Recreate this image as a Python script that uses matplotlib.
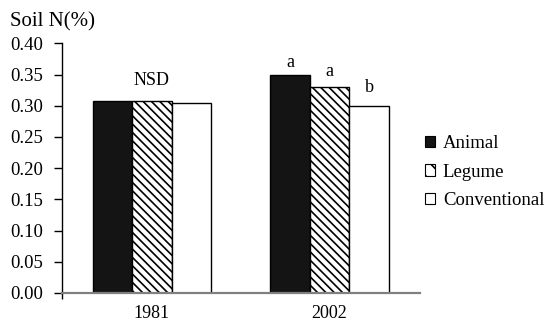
import numpy as np
import matplotlib
matplotlib.use('Agg')
import matplotlib.pyplot as plt
from matplotlib.patches import Patch

plt.rcParams['font.family'] = ['Liberation Serif', 'DejaVu Serif']
plt.rcParams['hatch.linewidth'] = 1.2

# data
years = ['1981', '2002']
treatments = ['Animal', 'Legume', 'Conventional']
animal = [0.307, 0.349]
legume = [0.307, 0.330]
conventional = [0.304, 0.300]
letters_2002 = ['a', 'a', 'b']
nsd_label = 'NSD'

fig = plt.figure(figsize=(5.47, 3.27), dpi=100)
ax = fig.add_axes([0.1133, 0.104, 0.6545, 0.7636])

x = np.arange(len(years))
w = 0.2225
styles = [dict(color='#141414', hatch=None),
          dict(color='white', hatch='\\\\\\\\'),
          dict(color='white', hatch=None)]
series = [animal, legume, conventional]
for i, (vals, st) in enumerate(zip(series, styles)):
    ax.bar(x + (i - 1) * w, vals, w, color=st['color'], hatch=st['hatch'],
           edgecolor='black', linewidth=1.0, label=treatments[i], zorder=2)

# significance labels
ax.annotate(nsd_label, xy=(x[0], max(s[0] for s in series)), xytext=(0, 12),
            textcoords='offset points', ha='center', va='baseline', fontsize=13)
offs = [6, 8, 10]
for i, lab in enumerate(letters_2002):
    ax.annotate(lab, xy=(x[1] + (i - 1) * w, series[i][1]), xytext=(0, offs[i]),
                textcoords='offset points', ha='center', va='baseline', fontsize=13)

ax.set_xlim(-0.507, 1.51)
ax.set_ylim(0, 0.40)
ax.set_yticks(np.arange(0, 0.401, 0.05))
ax.set_yticklabels(['%.2f' % v for v in np.arange(0, 0.401, 0.05)])
ax.set_xticks(x)
ax.set_xticklabels(years)
ax.set_xticks([-0.507], minor=True)
ax.tick_params(axis='x', which='major', length=0, pad=9, labelsize=13)
ax.tick_params(axis='x', which='minor', length=4, width=1, direction='out')
ax.tick_params(axis='y', length=6, width=1, direction='out', pad=7.5, labelsize=13.5)

for s in ['top', 'right']:
    ax.spines[s].set_visible(False)
ax.spines['left'].set_linewidth(1)
ax.spines['bottom'].set_color('#808080')
ax.spines['bottom'].set_linewidth(1.6)
ax.spines['bottom'].set_zorder(3)

fig.text(10 / 547, 1 - 22 / 327, 'Soil N(%)', fontsize=15, va='center', ha='left')

handles = [Patch(facecolor='#141414', edgecolor='black', linewidth=0.8),
           Patch(facecolor='white', edgecolor='black', hatch='\\\\', linewidth=0.8),
           Patch(facecolor='white', edgecolor='black', linewidth=0.8)]
fig.legend(handles, treatments, loc='upper left', bbox_to_anchor=(425 / 547, 1 - 135 / 327),
           frameon=False, fontsize=13.5, handlelength=0.55, handleheight=0.55,
           handletextpad=0.4, labelspacing=0.62, borderpad=0, borderaxespad=0)

fig.savefig('out.png', dpi=100)
